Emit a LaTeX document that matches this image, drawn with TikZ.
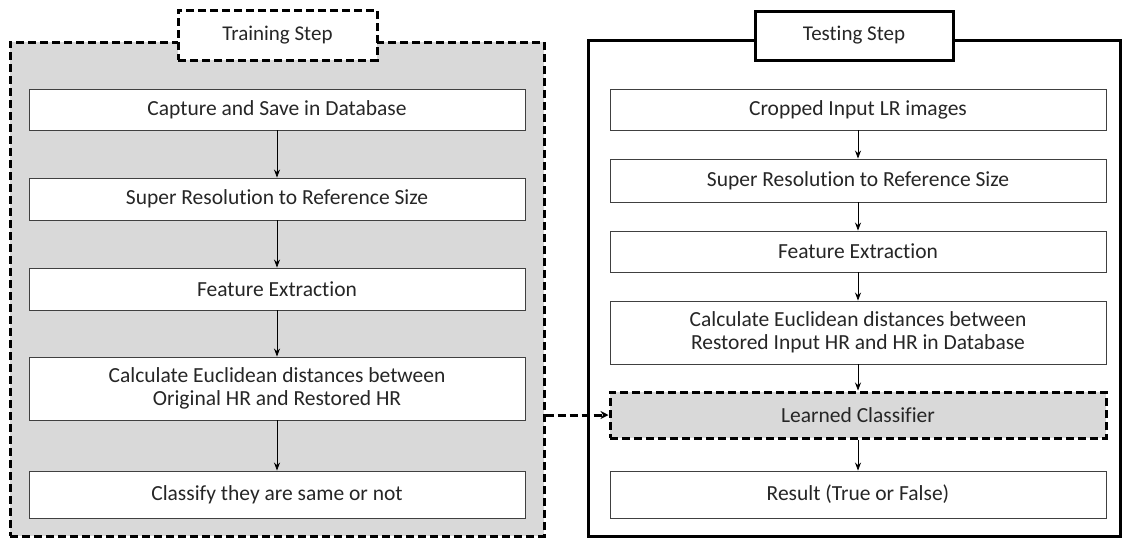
\documentclass[tikz,border=0pt]{standalone}
\usepackage{fontspec}
\setmainfont{Carlito}[Ligatures=NoCommon]
\usetikzlibrary{arrows.meta}
\definecolor{panelgray}{HTML}{D9D9D9}
\definecolor{boxline}{HTML}{404040}
\definecolor{txt}{HTML}{262626}
\tikzset{
  outerdash/.style={draw=black, line width=3pt, dash pattern=on 8pt off 4pt, fill=panelgray, inner sep=0pt},
  outersolid/.style={draw=black, line width=3pt, fill=white, inner sep=0pt},
  titledash/.style={draw=black, line width=3pt, dash pattern=on 8pt off 4pt, fill=white, inner sep=0pt,
    minimum width=199pt, minimum height=50pt, text=txt, font=\fontsize{21}{24}\selectfont},
  titlesolid/.style={draw=black, line width=3pt, fill=white, inner sep=0pt,
    minimum width=198pt, minimum height=49pt, text=txt, font=\fontsize{21}{24}\selectfont},
  stepbox/.style={draw=boxline, line width=0.9pt, fill=white, inner sep=0pt, minimum width=496pt,
    align=center, text=txt, font=\fontsize{21.5}{23}\selectfont},
  learnbox/.style={draw=black, line width=3pt, dash pattern=on 8pt off 4pt, fill=panelgray, inner sep=0pt,
    minimum width=496pt, align=center, text=txt, font=\fontsize{21.5}{23}\selectfont},
  flow/.style={draw=black, line width=0.8pt, -{Stealth[length=8pt,width=6pt]}},
  link/.style={draw=black, line width=3pt, dash pattern=on 8pt off 4pt, -{Stealth[length=8pt,width=8pt]}}
}
\begin{document}
\begin{tikzpicture}[x=1pt,y=-1pt]
\useasboundingbox (0,0) rectangle (1141,547);
% outer panels
\node[outerdash, minimum width=534pt, minimum height=494pt] (lout) at (277,289) {};
\node[outersolid, minimum width=532pt, minimum height=496pt] (rout) at (854,288) {};
% titles
\node[titledash] (ltitle) at (277.5,35) {Training Step};
\node[titlesolid] (rtitle) at (854,35.5) {Testing Step};
% left steps
\node[stepbox, minimum height=41pt] (l1) at (277,109.5) {Capture and Save in Database};
\node[stepbox, minimum height=42pt] (l2) at (277,199) {Super Resolution to Reference Size};
\node[stepbox, minimum height=42pt] (l3) at (277,289) {Feature Extraction};
\node[stepbox, minimum height=63pt] (l4) at (277,388.5) {Calculate Euclidean distances between\\Original HR and Restored HR};
\node[stepbox, minimum height=47pt] (l5) at (277,494.5) {Classify they are same or not};
% right steps
\node[stepbox, minimum height=41pt] (r1) at (858,109.5) {Cropped Input LR images};
\node[stepbox, minimum height=43pt] (r2) at (858,180.5) {Super Resolution to Reference Size};
\node[stepbox, minimum height=41pt] (r3) at (858,251.5) {Feature Extraction};
\node[stepbox, minimum height=63pt] (r4) at (858,332.5) {Calculate Euclidean distances between\\Restored Input HR and HR in Database};
\node[learnbox, minimum height=46pt] (r5) at (858,415) {Learned Classifier};
\node[stepbox, minimum height=47pt] (r6) at (858,494.5) {Result (True or False)};
% arrows
\draw[flow] (l1) -- (l2);
\draw[flow] (l2) -- (l3);
\draw[flow] (l3) -- (l4);
\draw[flow] (l4) -- (l5);
\draw[flow] (r1) -- (r2);
\draw[flow] (r2) -- (r3);
\draw[flow] (r3) -- (r4);
\draw[flow] (r4) -- (r5);
\draw[flow] (r5) -- (r6);
\draw[link] (r5 -| lout.east) -- (r5.west);
\end{tikzpicture}
\end{document}
